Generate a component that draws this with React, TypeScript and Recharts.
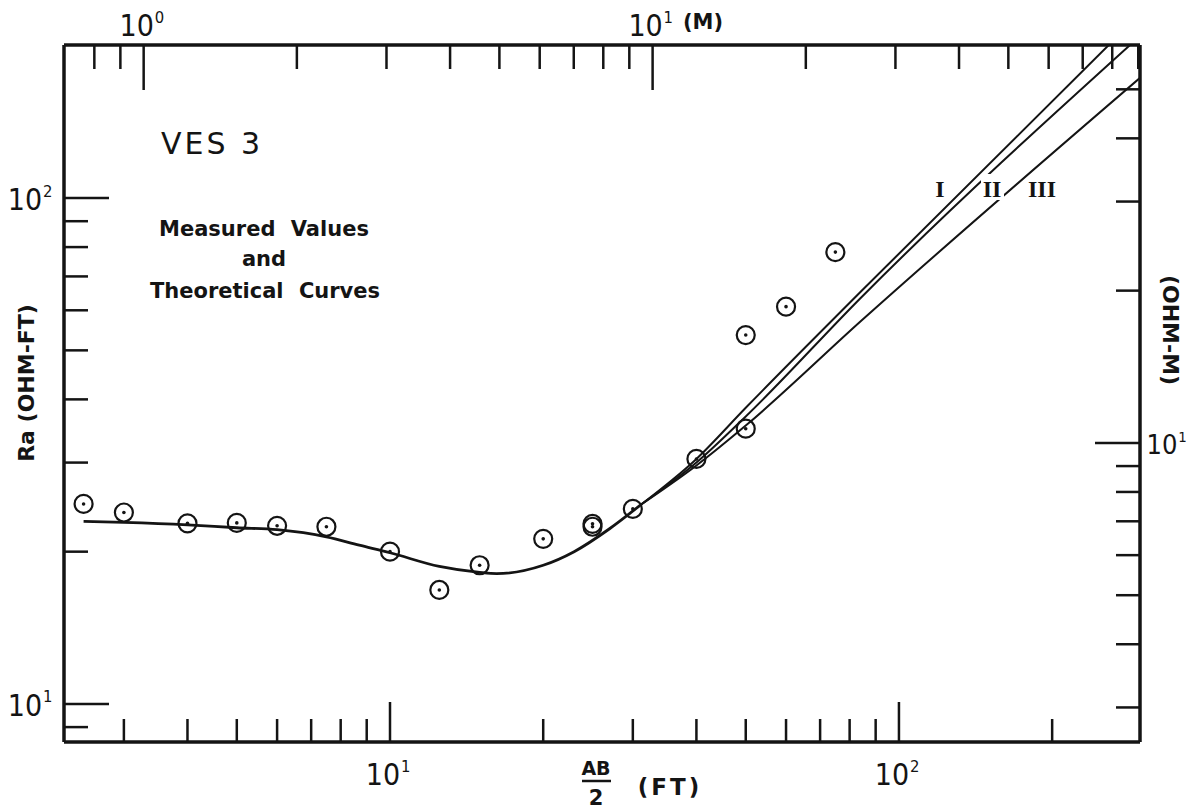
import React from 'react';
import { ComposedChart, Line, Scatter, XAxis, YAxis } from 'recharts';

const FT_PER_M = 3.2808;

// measured apparent resistivity, AB/2 in feet, Ra in ohm-ft
const measuredAb = [2.5, 3, 4, 5, 6, 7.5, 10, 12.5, 15, 20, 25, 25, 30, 40, 50, 50, 60, 75];
const measuredRa = [24.85, 23.9, 22.75, 22.8, 22.5, 22.4, 20.0, 16.8, 18.8, 21.2, 22.7, 22.4, 24.3, 30.5, 35.0, 53.6, 61.0, 78.2];

// theoretical curve, common part
const curveAb = [2.5, 3, 4, 5, 6, 7.5, 8.7, 10, 12.5, 15, 16.2, 20, 23, 27, 31];
const curveRa = [22.95, 22.85, 22.6, 22.3, 22.1, 21.4, 20.6, 19.9, 18.7, 18.2, 18.1, 18.8, 20.0, 22.2, 24.7];

// the three branches at large spacing
const branchAb = [31, 40, 50, 84, 300];
const branchI = [24.7, 30.5, 38.5, 65.2, 233];
const branchII = [24.7, 30.0, 37.0, 63.4, 210.6];
const branchIII = [24.7, 29.6, 35.5, 57.0, 174];

// axis ticks
const ftTicks = [3, 4, 5, 6, 7, 8, 9, 10, 20, 30, 40, 50, 60, 70, 80, 90, 100, 200];
const mTicks = [0.8, 0.9, 1, 2, 3, 4, 5, 6, 7, 8, 9, 10, 20, 30, 40, 50, 60, 70, 80, 90];
const ohmFtTicks = [9, 10, 20, 30, 40, 50, 60, 70, 80, 90, 100];
const ohmMTicks = [3, 4, 5, 6, 7, 8, 9, 10, 20, 30, 40, 50];
const majorFt = [10, 100];
const majorM = [1, 10];
const majorOhmFt = [10, 100];
const majorOhmM = [10];

const xDomain = [2.288, 297.6];
const yDomain = [8.41, 200.7];

const toPts = (xs: number[], ys: number[]) => xs.map((ab, i) => ({ ab, rho: ys[i] }));
const measured = toPts(measuredAb, measuredRa);
const curve = toPts(curveAb, curveRa);
const lineI = toPts(branchAb, branchI);
const lineII = toPts(branchAb, branchII);
const lineIII = toPts(branchAb, branchIII);

const W = 1189;
const H = 809;
const LEFT = 64;
const RIGHT = 1140;
const TOP = 45;
const BOTTOM = 742;

const INK = '#141414';
const FONT = "'DejaVu Sans Condensed', 'Liberation Sans Narrow', 'DejaVu Sans', sans-serif";
const BOLD = "'DejaVu Sans', 'Liberation Sans', sans-serif";
const SERIF = "'Liberation Serif', 'DejaVu Serif', serif";

const near = (v: number, list: number[]) => list.some((m) => Math.abs(m - v) < 1e-6);
const expOf = (v: number) => Math.round(Math.log10(v));

// "10" centred on x, exponent raised to its right
const Pow = ({ x, y, exp, size = 30 }: { x: number; y: number; exp: number; size?: number }) => (
  <g fill={INK} fontFamily={FONT}>
    <text x={x} y={y} fontSize={size} textAnchor="middle">10</text>
    <text x={x + size * 0.6} y={y - size * 0.45} fontSize={size * 0.55}>{exp}</text>
  </g>
);

const BottomTick = (p: any) => {
  const v = p.payload.value;
  const major = near(v, majorFt);
  return (
    <g>
      <line x1={p.x} x2={p.x} y1={BOTTOM} y2={BOTTOM - (major ? 40 : 23)} stroke={INK} strokeWidth={2.5} />
      {major && <Pow x={p.x - 7} y={785} exp={expOf(v)} />}
    </g>
  );
};

const TopTick = (p: any) => {
  const m = p.payload.value / FT_PER_M;
  const major = near(m, majorM);
  return (
    <g>
      <line x1={p.x} x2={p.x} y1={TOP} y2={TOP + (major ? 45 : 24)} stroke={INK} strokeWidth={2.5} />
      {major && <Pow x={p.x - 7} y={36} exp={expOf(m)} />}
    </g>
  );
};

const LeftTick = (p: any) => {
  const v = p.payload.value;
  const major = near(v, majorOhmFt);
  return (
    <g>
      <line x1={LEFT} x2={LEFT + (major ? 45 : 24)} y1={p.y} y2={p.y} stroke={INK} strokeWidth={2.5} />
      {major && <Pow x={25} y={p.y + 12} exp={expOf(v)} />}
    </g>
  );
};

const RightTick = (p: any) => {
  const m = p.payload.value / FT_PER_M;
  const major = near(m, majorOhmM);
  return (
    <g>
      <line x1={RIGHT} x2={RIGHT - (major ? 45 : 24)} y1={p.y} y2={p.y} stroke={INK} strokeWidth={2.5} />
      {major && <Pow x={1162} y={p.y + 11} exp={expOf(m)} size={27} />}
    </g>
  );
};

const Marker = (p: any) => (
  <g>
    <circle cx={p.cx} cy={p.cy} r={9} fill="none" stroke={INK} strokeWidth={2.2} />
    <circle cx={p.cx} cy={p.cy} r={1.8} fill={INK} />
  </g>
);

const axisLine = { stroke: INK, strokeWidth: 3.5 };

export default function App() {
  return (
    <div style={{ position: 'absolute', left: 0, top: 0, width: W, height: H, background: '#fff' }}>
      <ComposedChart width={W} height={H} margin={{ top: TOP - 1, right: W - RIGHT - 1, bottom: H - BOTTOM - 1, left: LEFT - 1 }}>
        <XAxis
          xAxisId="ft"
          dataKey="ab"
          type="number"
          scale="log"
          domain={xDomain}
          allowDataOverflow
          ticks={ftTicks}
          interval={0}
          tick={BottomTick}
          tickLine={false}
          axisLine={axisLine}
          height={1}
        />
        <XAxis
          xAxisId="m"
          orientation="top"
          dataKey="ab"
          type="number"
          scale="log"
          domain={xDomain}
          allowDataOverflow
          ticks={mTicks.map((m) => m * FT_PER_M)}
          interval={0}
          tick={TopTick}
          tickLine={false}
          axisLine={axisLine}
          height={1}
        />
        <YAxis
          yAxisId="ohmft"
          dataKey="rho"
          type="number"
          scale="log"
          domain={yDomain}
          allowDataOverflow
          ticks={ohmFtTicks}
          interval={0}
          tick={LeftTick}
          tickLine={false}
          axisLine={axisLine}
          width={1}
        />
        <YAxis
          yAxisId="ohmm"
          orientation="right"
          dataKey="rho"
          type="number"
          scale="log"
          domain={yDomain}
          allowDataOverflow
          ticks={ohmMTicks.map((m) => m * FT_PER_M)}
          interval={0}
          tick={RightTick}
          tickLine={false}
          axisLine={axisLine}
          width={1}
        />
        <Line xAxisId="m" yAxisId="ohmm" data={curve} dataKey="rho" stroke="none" dot={false} activeDot={false} isAnimationActive={false} />
        <Line xAxisId="ft" yAxisId="ohmft" data={curve} dataKey="rho" type="monotone" stroke={INK} strokeWidth={2.8} dot={false} isAnimationActive={false} />
        <Line xAxisId="ft" yAxisId="ohmft" data={lineI} dataKey="rho" type="monotone" stroke={INK} strokeWidth={2} dot={false} isAnimationActive={false} />
        <Line xAxisId="ft" yAxisId="ohmft" data={lineII} dataKey="rho" type="monotone" stroke={INK} strokeWidth={2} dot={false} isAnimationActive={false} />
        <Line xAxisId="ft" yAxisId="ohmft" data={lineIII} dataKey="rho" type="monotone" stroke={INK} strokeWidth={2} dot={false} isAnimationActive={false} />
        <Scatter xAxisId="ft" yAxisId="ohmft" data={measured} dataKey="rho" shape={Marker} isAnimationActive={false} />
      </ComposedChart>
      <svg width={W} height={H} style={{ position: 'absolute', left: 0, top: 0, pointerEvents: 'none' }}>
        <g fill={INK}>
          <text x={703} y={29} fontFamily={BOLD} fontWeight={700} fontSize={21} textAnchor="middle">(M)</text>
          <text x={212} y={154} fontFamily={BOLD} fontSize={30} textAnchor="middle" letterSpacing={3}>VES 3</text>
          <text x={264} y={236} fontFamily={BOLD} fontWeight={700} fontSize={21} textAnchor="middle" wordSpacing={8}>Measured Values</text>
          <text x={264} y={266} fontFamily={BOLD} fontWeight={700} fontSize={21} textAnchor="middle">and</text>
          <text x={265} y={298} fontFamily={BOLD} fontWeight={700} fontSize={21} textAnchor="middle" wordSpacing={8}>Theoretical Curves</text>
          <text transform="translate(34,383) rotate(-90)" fontFamily={BOLD} fontWeight={700} fontSize={22} textAnchor="middle">Ra (OHM-FT)</text>
          <text transform="translate(1163,330) rotate(90)" fontFamily={BOLD} fontWeight={700} fontSize={22} textAnchor="middle">(OHM-M)</text>
          <text x={596} y={775} fontFamily={BOLD} fontWeight={700} fontSize={19} textAnchor="middle">AB</text>
          <line x1={582} x2={611} y1={781} y2={781} stroke={INK} strokeWidth={2.5} />
          <text x={596} y={805} fontFamily={BOLD} fontWeight={700} fontSize={21} textAnchor="middle">2</text>
          <text x={670} y={795} fontFamily={BOLD} fontWeight={700} fontSize={23} textAnchor="middle" letterSpacing={3}>(FT)</text>
          <rect x={981} y={174} width={23} height={26} fill="#fff" />
          <text x={940} y={197} fontFamily={SERIF} fontWeight={700} fontSize={24} textAnchor="middle">I</text>
          <text x={992} y={197} fontFamily={SERIF} fontWeight={700} fontSize={24} textAnchor="middle">II</text>
          <text x={1042} y={197} fontFamily={SERIF} fontWeight={700} fontSize={24} textAnchor="middle">III</text>
        </g>
      </svg>
    </div>
  );
}
